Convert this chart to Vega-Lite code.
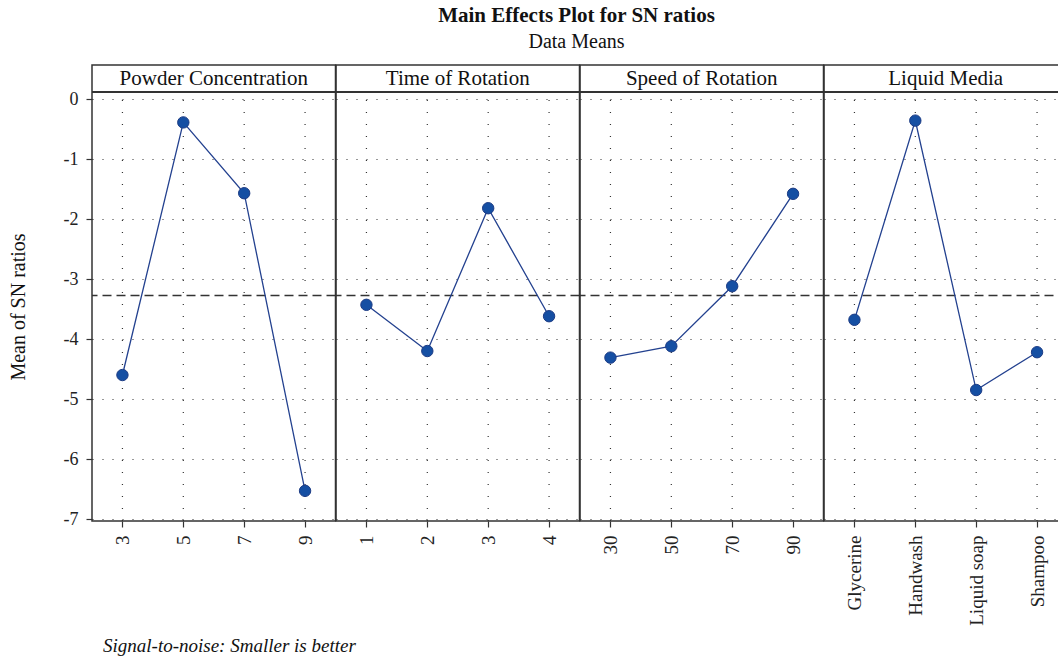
{
  "$schema": "https://vega.github.io/schema/vega-lite/v6.json",
  "padding": {"left": 8, "top": 5, "right": 0, "bottom": 0},
  "background": "white",
  "title": {
    "text": "Main Effects Plot for SN ratios",
    "subtitle": "Data Means",
    "anchor": "middle",
    "dx": 38,
    "font": "Liberation Serif",
    "fontSize": 21,
    "fontWeight": "bold",
    "color": "#111",
    "subtitleFont": "Liberation Serif",
    "subtitleFontSize": 20,
    "subtitleColor": "#111",
    "subtitlePadding": 6,
    "offset": 12
  },
  "data": {
    "values": [
      {"factor": "Powder Concentration", "level": "3", "sn": -4.60},
      {"factor": "Powder Concentration", "level": "5", "sn": -0.39},
      {"factor": "Powder Concentration", "level": "7", "sn": -1.57},
      {"factor": "Powder Concentration", "level": "9", "sn": -6.53},
      {"factor": "Time of Rotation", "level": "1", "sn": -3.43},
      {"factor": "Time of Rotation", "level": "2", "sn": -4.20},
      {"factor": "Time of Rotation", "level": "3", "sn": -1.82},
      {"factor": "Time of Rotation", "level": "4", "sn": -3.62},
      {"factor": "Speed of Rotation", "level": "30", "sn": -4.31},
      {"factor": "Speed of Rotation", "level": "50", "sn": -4.12},
      {"factor": "Speed of Rotation", "level": "70", "sn": -3.12},
      {"factor": "Speed of Rotation", "level": "90", "sn": -1.58},
      {"factor": "Liquid Media", "level": "Glycerine", "sn": -3.68},
      {"factor": "Liquid Media", "level": "Handwash", "sn": -0.36},
      {"factor": "Liquid Media", "level": "Liquid soap", "sn": -4.85},
      {"factor": "Liquid Media", "level": "Shampoo", "sn": -4.22}
    ]
  },
  "transform": [
    {"joinaggregate": [{"op": "mean", "field": "sn", "as": "grand"}]},
    {"window": [{"op": "row_number", "as": "rn"}], "groupby": ["factor"]}
  ],
  "vconcat": [
    {
      "facet": {
        "column": {
          "field": "factor",
          "type": "nominal",
          "sort": ["Powder Concentration", "Time of Rotation", "Speed of Rotation", "Liquid Media"],
          "header": null
        }
      },
      "spacing": 0,
      "bounds": "flush",
      "resolve": {"scale": {"x": "independent"}, "axis": {"x": "independent"}},
      "title": {
        "text": "Signal-to-noise: Smaller is better",
        "orient": "bottom",
        "anchor": "start",
        "font": "Liberation Serif",
        "fontSize": 19,
        "fontStyle": "italic",
        "fontWeight": "normal",
        "color": "#111",
        "offset": 11,
        "dx": 95
      },
      "spec": {
        "width": 243.5,
        "height": 456,
        "encoding": {
          "x": {
            "field": "level",
            "type": "ordinal",
            "scale": {"type": "point", "padding": 0.5},
            "axis": {
              "title": null,
              "labelAngle": -90,
              "labelFont": "Liberation Serif",
              "labelFontSize": 19,
              "labelColor": "#222",
              "labelPadding": 8,
              "tickSize": 6,
              "tickColor": "#333",
              "tickWidth": 1.2,
              "domain": false,
              "grid": false
            }
          },
          "y": {
            "field": "sn",
            "type": "quantitative",
            "scale": {"domain": [-7.033, 0.567], "nice": false, "zero": false},
            "axis": {
              "title": "Mean of SN ratios",
              "titleFont": "Liberation Serif",
              "titleFontSize": 20,
              "titleFontWeight": "normal",
              "titleColor": "#111",
              "titlePadding": 35,
              "titleY": 241.5,
              "values": [0, -1, -2, -3, -4, -5, -6, -7],
              "labelExpr": "datum.value == 0 ? '0' : '-' + abs(datum.value)",
              "labelFont": "Liberation Serif",
              "labelFontSize": 18,
              "labelColor": "#222",
              "labelPadding": 8,
              "tickSize": 6,
              "tickColor": "#333",
              "tickWidth": 1.2,
              "domain": false,
              "grid": true,
              "gridDash": [1, 9],
              "gridColor": "#333",
              "gridWidth": 1.2
            }
          }
        },
        "layer": [
          {
            "mark": {"type": "rule", "color": "#333", "strokeWidth": 1.2, "strokeDash": [1, 11]},
            "encoding": {"y": {"datum": -7.033}, "y2": {"datum": 0.117}}
          },
          {
            "mark": {"type": "rule", "color": "#333", "strokeWidth": 1.5},
            "encoding": {"y": {"datum": 0.117}, "x": null}
          },
          {
            "transform": [{"filter": "datum.rn == 1"}],
            "mark": {"type": "text", "font": "Liberation Serif", "fontSize": 21, "color": "#111", "baseline": "middle", "align": "center"},
            "encoding": {"x": null, "y": {"datum": 0.342}, "text": {"field": "factor", "type": "nominal"}}
          },
          {
            "mark": {"type": "rule", "color": "#333", "strokeWidth": 1.3, "strokeDash": [9, 5]},
            "encoding": {"x": null, "y": {"field": "grand", "type": "quantitative", "aggregate": "mean"}}
          },
          {
            "mark": {"type": "line", "color": "#23418f", "strokeWidth": 1.3}
          },
          {
            "mark": {"type": "point", "filled": true, "fill": "#154fa3", "stroke": "#1d3c85", "strokeWidth": 1, "opacity": 1, "size": 130}
          }
        ]
      }
    }
  ],
  "config": {
    "view": {"stroke": "#333", "strokeWidth": 1.5},
    "axis": {"labelFont": "Liberation Serif", "titleFont": "Liberation Serif"}
  }
}
